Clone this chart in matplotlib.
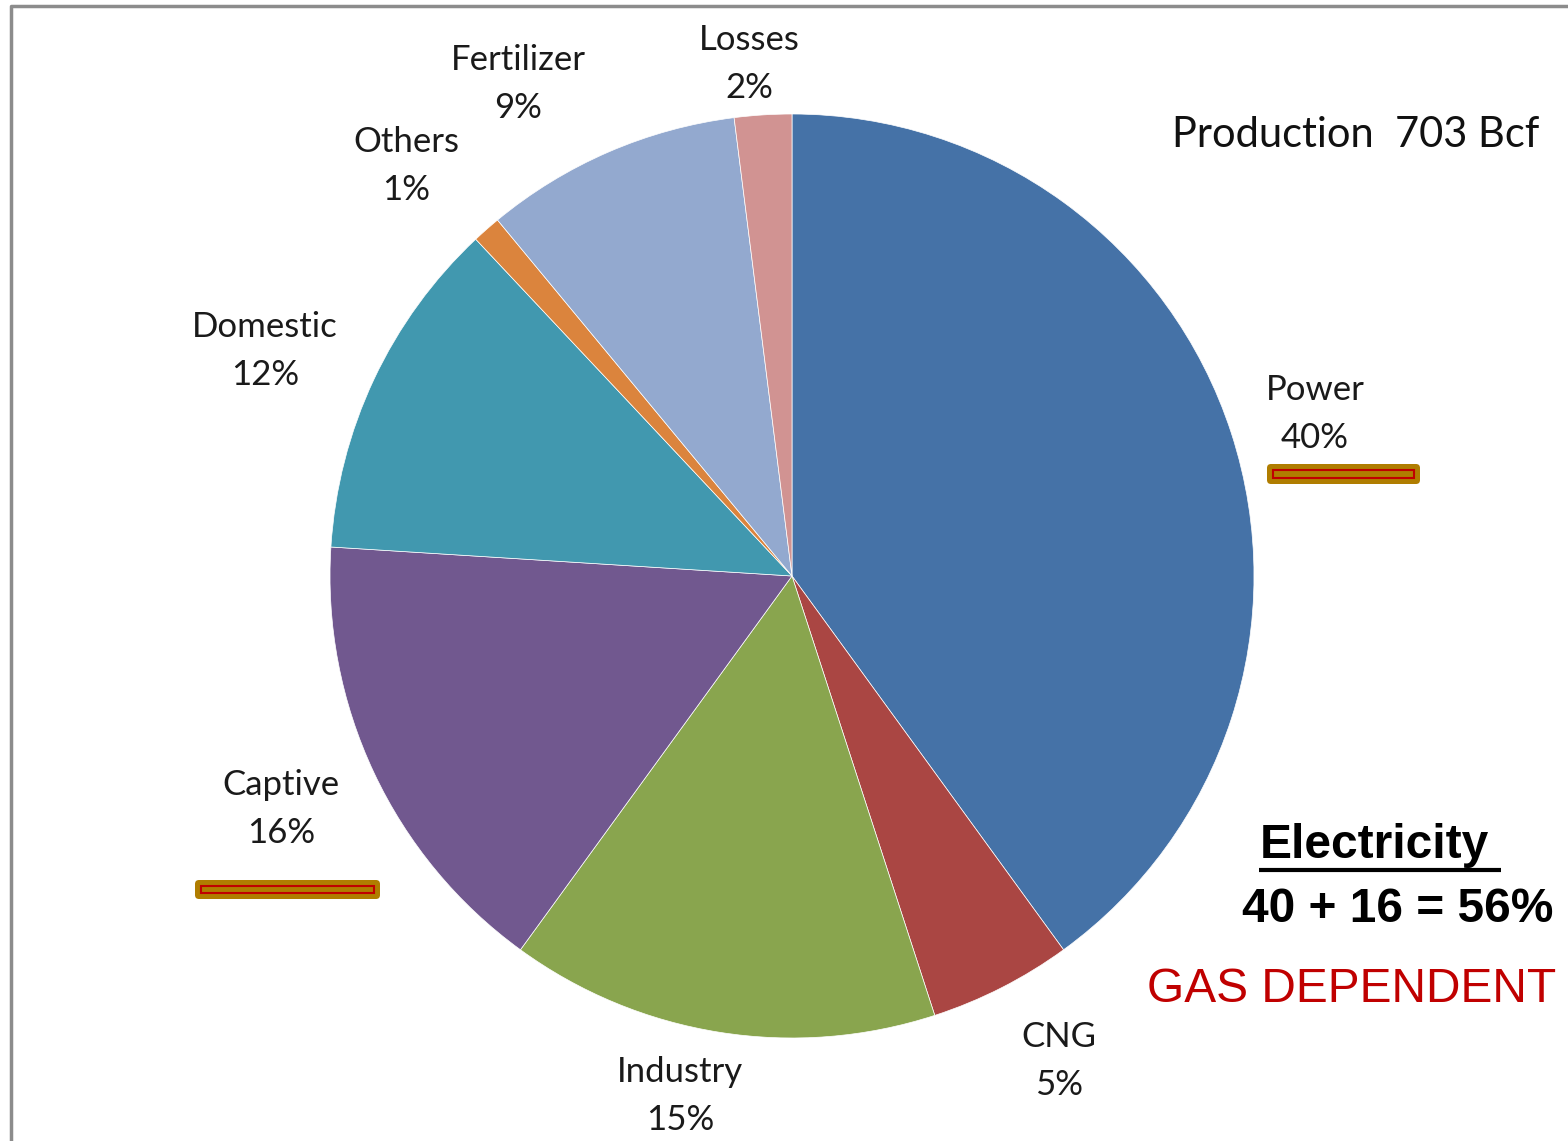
import matplotlib.pyplot as plt
from matplotlib.patches import FancyBboxPatch, Rectangle

# gas consumption by sector (share of production, %)
sectors = ["Power", "CNG", "Industry", "Captive", "Domestic", "Others", "Fertilizer", "Losses"]
shares = [40, 5, 15, 16, 12, 1, 9, 2]
colors = ["#4572A7", "#AA4643", "#89A54E", "#71588F", "#4198AF", "#DB843D", "#93A9CF", "#D19392"]

# label centres in pixels (from top-left)
label_pos = [(1315, 414), (1059, 1061), (680, 1096), (281, 809),
             (265, 351), (406, 166), (518, 84), (749, 64)]

W, H = 1568, 1141

fig = plt.figure(figsize=(W / 100, H / 100), dpi=100)
ax = fig.add_axes([0, 0, 1, 1])

ax.pie(shares, colors=colors, startangle=90, counterclock=False,
       center=(792, H - 576), radius=462, frame=True,
       wedgeprops=dict(linewidth=0.5, edgecolor="white"))
ax.set_xlim(0, W)
ax.set_ylim(0, H)
ax.set_aspect("equal")
ax.axis("off")

lab_font = ["Lato", "DejaVu Sans"]
for name, val, (px, py) in zip(sectors, shares, label_pos):
    ax.text(px, H - py, f"{name}\n{val}%", ha="center", va="center",
            fontsize=25, family=lab_font, linespacing=1.62, color="#1a1a1a")

ax.text(1356, H - 135, "Production  703 Bcf", ha="center", va="center",
        fontsize=30, family=lab_font, color="#111111")

# highlight bars under Power and Captive
for x0, y0, w, h in [(1267, 464, 153, 20), (195, 880, 185, 19)]:
    ax.add_patch(FancyBboxPatch((x0 + 4, H - y0 - h + 4), w - 8, h - 8,
                                boxstyle="round,pad=4", fc="#B07D00", ec="none"))
    ax.add_patch(Rectangle((x0 + 6, H - y0 - h + 6), w - 12, h - 12,
                           fc="none", ec="#C00000", lw=1.5))

ax.text(1260, H - 846, "Electricity", ha="left", va="center", fontsize=34.5,
        fontweight="bold", family="Liberation Sans")
ax.plot([1259, 1501], [H - 870, H - 870], color="black", lw=3, solid_capstyle="butt")
ax.text(1398, H - 909, "40 + 16 = 56%", ha="center", va="center", fontsize=34.5,
        fontweight="bold", family="Liberation Sans")
ax.text(1352, H - 989, "GAS DEPENDENT", ha="center", va="center", fontsize=34.5,
        family="Liberation Sans", color="#C00000")

# partial grey frame
ax.plot([11, 11, W], [0, H - 6, H - 6], color="#8C8C8C", lw=2.5)

fig.savefig("out.png", dpi=100)
